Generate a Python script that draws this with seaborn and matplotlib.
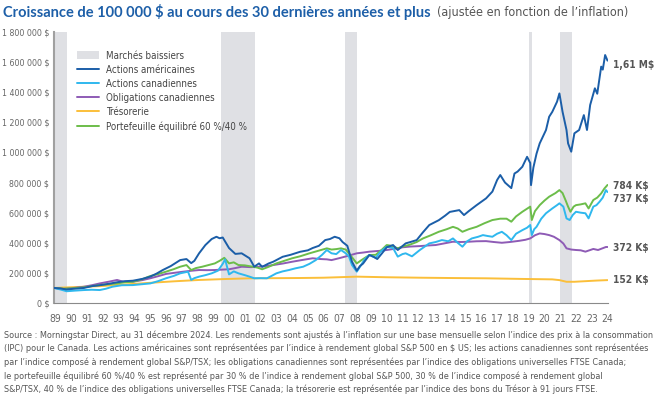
import matplotlib
matplotlib.use("Agg")
import matplotlib.pyplot as plt
from matplotlib import font_manager
from matplotlib.font_manager import FontProperties
from matplotlib.patches import Patch
from matplotlib.lines import Line2D
import seaborn as sns
import pandas as pd

# ---- données (en milliers de $), x = position sur l'axe des années ----
us_x = [1988.9, 1989.3, 1989.7, 1990.2, 1990.8, 1991.3, 1991.8, 1992.4, 1992.9, 1993.4, 1993.9,
        1994.5, 1995.0, 1995.4, 1995.8, 1996.3, 1996.9, 1997.3, 1997.6, 1997.8, 1998.1, 1998.5,
        1998.9, 1999.2, 1999.4, 1999.6, 2000.0, 2000.4, 2000.8, 2001.3, 2001.6, 2001.9, 2002.1,
        2002.5, 2002.8, 2003.4, 2003.9, 2004.5, 2005.0, 2005.3, 2005.7, 2006.1, 2006.4, 2006.7,
        2007.0, 2007.2, 2007.5, 2007.8, 2008.1, 2008.3, 2008.5, 2008.9, 2009.2, 2009.4, 2009.7,
        2010.0, 2010.4, 2010.7, 2011.2, 2011.5, 2011.9, 2012.3, 2012.7, 2013.3, 2013.7, 2014.0,
        2014.6, 2014.9, 2015.2, 2015.7, 2016.3, 2016.7, 2017.0, 2017.2, 2017.5, 2017.9, 2018.1,
        2018.3, 2018.6, 2018.9, 2019.1, 2019.15, 2019.3, 2019.5, 2019.7, 2020.1, 2020.3, 2020.5,
        2020.8, 2020.95, 2021.15, 2021.4, 2021.5, 2021.7, 2021.9, 2022.2, 2022.5, 2022.7, 2022.9,
        2023.2, 2023.35, 2023.6, 2023.7, 2023.85, 2024.0]
us_v = [100, 97, 90, 95, 100, 112, 118, 128, 138, 145, 148,
        160, 175, 195, 219, 245, 285, 292, 265, 280, 330, 385,
        425, 440, 430, 435, 365, 326, 330, 297, 241, 263, 240,
        262, 274, 307, 320, 340, 350, 365, 380, 418, 425, 440,
        430, 405, 380, 274, 215, 245, 262, 319, 305, 292, 330,
        370, 385, 352, 396, 405, 418, 470, 518, 550, 580, 605,
        617, 584, 610, 650, 695, 740, 817, 850, 800, 763, 860,
        873, 905, 971, 930, 783, 900, 992, 1060, 1149, 1237, 1270,
        1337, 1392, 1270, 1149, 1060, 1005, 1127, 1149, 1248, 1149, 1315,
        1426, 1390, 1570, 1550, 1647, 1610]

ca_x = [1988.9, 1989.3, 1989.7, 1990.2, 1990.8, 1991.3, 1991.8, 1992.2, 1992.6, 1993.2, 1993.9,
        1994.5, 1995.0, 1995.5, 1996.0, 1996.5, 1996.9, 1997.4, 1997.6, 1997.8, 1998.1, 1998.5,
        1998.9, 1999.3, 1999.6, 1999.75, 1999.9, 2000.0, 2000.3, 2000.6, 2001.0, 2001.3, 2001.6,
        2002.0, 2002.4, 2002.7, 2003.0, 2003.4, 2003.8, 2004.2, 2004.7, 2005.1, 2005.5, 2005.9,
        2006.2, 2006.5, 2006.8, 2007.1, 2007.4, 2007.6, 2007.8, 2008.1, 2008.3, 2008.6, 2008.9,
        2009.3, 2009.6, 2010.0, 2010.4, 2010.7, 2011.0, 2011.2, 2011.6, 2012.1, 2012.7, 2013.1,
        2013.5, 2013.9, 2014.2, 2014.5, 2014.8, 2015.1, 2015.4, 2015.8, 2016.1, 2016.4, 2016.7,
        2017.0, 2017.3, 2017.6, 2017.9, 2018.2, 2018.6, 2018.9, 2019.1, 2019.2, 2019.35, 2019.5,
        2019.8, 2020.1, 2020.5, 2020.8, 2020.95, 2021.2, 2021.4, 2021.6, 2021.8, 2022.0, 2022.3,
        2022.6, 2022.8, 2023.1, 2023.3, 2023.5, 2023.7, 2023.9, 2024.0]
ca_v = [100, 90, 78, 82, 86, 88, 86, 95, 108, 118, 119,
        125, 130, 145, 164, 180, 197, 208, 153, 165, 175, 185,
        197, 215, 260, 290, 230, 190, 210, 197, 185, 175, 164,
        165, 164, 180, 197, 210, 219, 230, 241, 260, 285, 320,
        352, 330, 325, 352, 330, 310, 252, 208, 240, 290, 319,
        300, 340, 374, 365, 308, 325, 330, 310, 352, 396, 405,
        418, 410, 429, 400, 374, 410, 429, 440, 451, 445, 440,
        460, 473, 450, 418, 460, 484, 500, 518, 451, 490, 506,
        560, 596, 628, 650, 662, 640, 562, 551, 585, 606, 600,
        596, 562, 640, 650, 673, 700, 750, 737]

bal_x = [1988.9, 1989.5, 1990.0, 1990.8, 1991.3, 1991.8, 1992.4, 1992.9, 1993.4, 1993.9, 1994.5,
         1995.0, 1995.5, 1996.0, 1996.5, 1996.9, 1997.3, 1997.6, 1997.9, 1998.3, 1998.7, 1999.1,
         1999.4, 1999.7, 2000.0, 2000.3, 2000.6, 2001.0, 2001.5, 2001.8, 2002.1, 2002.5, 2003.0,
         2003.5, 2004.0, 2004.5, 2005.1, 2005.6, 2006.2, 2006.5, 2006.8, 2007.1, 2007.4, 2007.6,
         2007.9, 2008.1, 2008.4, 2008.9, 2009.3, 2009.7, 2010.0, 2010.3, 2010.7, 2011.0, 2011.4,
         2011.9, 2012.3, 2012.8, 2013.3, 2013.8, 2014.2, 2014.5, 2014.8, 2015.2, 2015.7, 2016.2,
         2016.7, 2017.2, 2017.6, 2017.9, 2018.2, 2018.6, 2019.1, 2019.2, 2019.4, 2019.7, 2020.0,
         2020.3, 2020.7, 2020.95, 2021.15, 2021.35, 2021.5, 2021.65, 2021.85, 2022.0, 2022.3, 2022.6,
         2022.8, 2023.1, 2023.35, 2023.6, 2023.8, 2024.0]
bal_v = [100, 95, 97, 104, 112, 119, 125, 130, 138, 141, 158,
         179, 192, 208, 225, 241, 252, 219, 232, 241, 252, 263,
         280, 300, 263, 270, 252, 250, 241, 235, 224, 240, 263,
         280, 297, 310, 330, 345, 363, 355, 358, 363, 355, 330,
         290, 263, 285, 319, 320, 355, 385, 380, 363, 375, 385,
         405, 429, 450, 473, 490, 506, 495, 473, 490, 506, 530,
         551, 560, 560, 540, 575, 606, 640, 551, 610, 650, 680,
         706, 730, 750, 730, 680, 640, 606, 640, 650, 655, 662,
         628, 684, 700, 728, 760, 784]

bond_x = [1988.9, 1989.5, 1990.0, 1990.8, 1991.3, 1991.8, 1992.4, 1992.9, 1993.3, 1993.9, 1994.5,
          1995.0, 1995.5, 1996.0, 1996.5, 1997.1, 1997.6, 1998.1, 1998.6, 1999.1, 1999.6, 2000.0,
          2000.4, 2000.8, 2001.4, 2001.9, 2002.4, 2002.8, 2003.4, 2004.0, 2004.6, 2005.3, 2005.8,
          2006.2, 2006.5, 2007.0, 2007.5, 2008.1, 2008.5, 2008.9, 2009.5, 2010.0, 2010.5, 2011.0,
          2011.5, 2012.1, 2012.6, 2013.1, 2013.6, 2014.2, 2014.7, 2015.2, 2015.7, 2016.3, 2016.8,
          2017.3, 2017.8, 2018.4, 2018.8, 2019.1, 2019.4, 2019.7, 2020.0, 2020.3, 2020.6, 2020.95,
          2021.2, 2021.4, 2021.7, 2022.0, 2022.3, 2022.6, 2022.85, 2023.1, 2023.4, 2023.6, 2023.9,
          2024.0]
bond_v = [100, 93, 98, 108, 118, 130, 142, 153, 141, 141, 152,
          164, 178, 193, 200, 208, 214, 219, 218, 219, 222, 224,
          232, 241, 238, 241, 246, 252, 262, 274, 285, 297, 292,
          290, 285, 298, 312, 330, 335, 341, 346, 352, 360, 370,
          375, 378, 382, 385, 395, 407, 405, 407, 410, 411, 405,
          400, 405, 413, 420, 429, 450, 462, 458, 451, 440, 418,
          395, 363, 355, 352, 350, 341, 350, 359, 352, 360, 372,
          372]

tb_x = [1988.9, 1990.3, 1991.8, 1993.4, 1995.0, 1996.5, 1998.1, 1999.7, 2001.3, 2003.0, 2004.5,
        2006.0, 2008.1, 2010.0, 2012.1, 2014.0, 2016.3, 2018.5, 2020.5, 2020.95, 2021.4, 2021.9,
        2022.6, 2023.3, 2024.0]
tb_v = [100, 106, 112, 123, 134, 144, 153, 159, 164, 165, 166,
        168, 175, 171, 168, 166, 164, 160, 157, 152, 141, 141,
        145, 149, 152]

# marchés baissiers (début, fin)
bear_start = [1988.9, 1999.5, 2007.33, 2019.03, 2020.96]
bear_end = [1989.7, 2001.65, 2008.1, 2019.19, 2021.72]

series_names = ["Actions américaines", "Actions canadiennes", "Obligations canadiennes",
                "Trésorerie", "Portefeuille équilibré 60 %/40 %"]
colors = {"Actions américaines": "#1b5ea8",
          "Actions canadiennes": "#2fb8ee",
          "Obligations canadiennes": "#8e5bb5",
          "Trésorerie": "#fbbf3a",
          "Portefeuille équilibré 60 %/40 %": "#6cbd4a"}
end_labels = ["1,61 M$", "784 K$", "737 K$", "372 K$", "152 K$"]
end_label_y = [1580, 777, 690, 365, 153]

notes = [
    "Source : Morningstar Direct, au 31 décembre 2024. Les rendements sont ajustés à l’inflation sur une base mensuelle selon l’indice des prix à la consommation",
    "(IPC) pour le Canada. Les actions américaines sont représentées par l’indice à rendement global S&P 500 en $ US; les actions canadiennes sont représentées",
    "par l’indice composé à rendement global S&P/TSX; les obligations canadiennes sont représentées par l’indice des obligations universelles FTSE Canada;",
    "le portefeuille équilibré 60 %/40 % est représenté par 30 % de l’indice à rendement global S&P 500, 30 % de l’indice composé à rendement global",
    "S&P/TSX, 40 % de l’indice des obligations universelles FTSE Canada; la trésorerie est représentée par l’indice des bons du Trésor à 91 jours FTSE.",
]


# police étroite si une est installée, sinon Liberation Sans
def find_narrow(bold=False):
    for f in font_manager.fontManager.ttflist:
        key = (f.name + " " + f.fname).lower()
        if ("narrow" in key or "condensed" in key) and f.style == "normal":
            is_bold = f.weight in ("bold", 700, "heavy", 800, 900) or "bold" in f.fname.lower()
            if is_bold == bold:
                return FontProperties(fname=f.fname)
    return FontProperties(family="Liberation Sans", weight="bold" if bold else "normal")


fp = find_narrow(False)
fpb = find_narrow(True)

frames = []
for name, xs, vs in [("Trésorerie", tb_x, tb_v),
                     ("Obligations canadiennes", bond_x, bond_v),
                     ("Portefeuille équilibré 60 %/40 %", bal_x, bal_v),
                     ("Actions canadiennes", ca_x, ca_v),
                     ("Actions américaines", us_x, us_v)]:
    frames.append(pd.DataFrame({"annee": xs, "valeur": [v * 1000 for v in vs], "serie": name}))
df = pd.concat(frames, ignore_index=True)

sns.set_style("white")
plt.rcParams["font.family"] = ["Liberation Sans", "DejaVu Sans"]

fig = plt.figure(figsize=(6.56, 3.97), dpi=100)
ax = fig.add_axes([54 / 656, 1 - 303 / 397, (607.5 - 54) / 656, (303 - 32) / 397])

for s, e in zip(bear_start, bear_end):
    ax.axvspan(s, e, color="#dfe0e4", lw=0, zorder=0)

sns.lineplot(data=df, x="annee", y="valeur", hue="serie", palette=colors,
             hue_order=["Trésorerie", "Obligations canadiennes",
                        "Portefeuille équilibré 60 %/40 %", "Actions canadiennes",
                        "Actions américaines"],
             sort=False, estimator=None, linewidth=1.4, legend=False, ax=ax, zorder=3)

ax.set_xlim(1988.9, 2024.0)
ax.set_ylim(0, 1800000)
ax.set_xlabel("")
ax.set_ylabel("")

years = list(range(1989, 2025))
ax.set_xticks(years)
ax.set_xticklabels([str(y)[-2:] for y in years])
yt = list(range(0, 1800001, 200000))
ax.set_yticks(yt)
ax.set_yticklabels([("{:,}".format(v).replace(",", " ") + " $") for v in yt])
ax.tick_params(axis="x", direction="out", length=4, width=0.8, color="#8a8a8a",
               labelcolor="#666666", pad=4)
ax.tick_params(axis="y", length=0, labelcolor="#666666", pad=3.5)

for side in ["top", "right"]:
    ax.spines[side].set_visible(False)
ax.spines["left"].set_color("#a0a0a0")
ax.spines["left"].set_linewidth(1.5)
ax.spines["bottom"].set_color("#8a8a8a")
ax.spines["bottom"].set_linewidth(0.8)
ax.grid(False)

# étiquettes de fin
end_texts = []
for txt, yv in zip(end_labels, end_label_y):
    end_texts.append(ax.text(2024.35, yv * 1000, txt, fontproperties=fpb, color="#555555",
                             va="center", ha="left", clip_on=False))

# légende
handles = [Patch(facecolor="#dfe0e4", edgecolor="none")]
labels = ["Marchés baissiers"]
for name in series_names:
    handles.append(Line2D([0], [0], color=colors[name], lw=1.4))
    labels.append(name)

# titre
title = fig.text(3 / 656, 1 - 12 / 397, "Croissance de 100 000 $ au cours des 30 dernières années et plus",
                 family=["Lato", "DejaVu Sans"], fontweight="bold", fontsize=10, color="#1d5fa8",
                 va="center", ha="left")
sub = fig.text(437 / 656, 1 - 12.5 / 397, "(ajustée en fonction de l’inflation)",
               fontproperties=fp, color="#555555", va="center", ha="left")

note_texts = []
for i, line in enumerate(notes):
    note_texts.append(fig.text(4 / 656, 1 - (335 + i * 13.6) / 397, line, fontproperties=fp.copy(),
                               color="#555555", va="center", ha="left"))

# ajuster les tailles de police aux largeurs mesurées sur l'original
fig.canvas.draw()
r = fig.canvas.get_renderer()


def fit(text, target, cap):
    text.set_fontsize(10)
    w = text.get_window_extent(r).width
    text.set_fontsize(min(cap, 10 * target / w))
    return text.get_fontsize()


fit(title, 429, 11)
fit(sub, 211, 9)
fs_note = fit(note_texts[0], 647, 9)
for t in note_texts[1:]:
    t.set_fontsize(fs_note)

probe = fig.text(0, 0, "1 800 000 $", fontproperties=fp.copy())
fs_tick = fit(probe, 48, 8.5)
probe.remove()
for lbl in ax.get_yticklabels():
    lbl.set_fontproperties(fp)
    lbl.set_fontsize(fs_tick)
for lbl in ax.get_xticklabels():
    lbl.set_fontproperties(fp)
    lbl.set_fontsize(7.4)

probe = fig.text(0, 0, "1,61 M$", fontproperties=fpb.copy())
fs_end = fit(probe, 41, 9)
probe.remove()
for t in end_texts:
    t.set_fontsize(fs_end)

leg_fp = fp.copy()
leg_fp.set_size(7)
ax.legend(handles, labels, loc="upper left", bbox_to_anchor=(0.035, 0.945), frameon=False,
          prop=leg_fp, labelcolor="#444444", handlelength=2.2, handleheight=0.9,
          labelspacing=0.42, borderaxespad=0, handletextpad=0.8)

fig.savefig("out.png", dpi=100)
